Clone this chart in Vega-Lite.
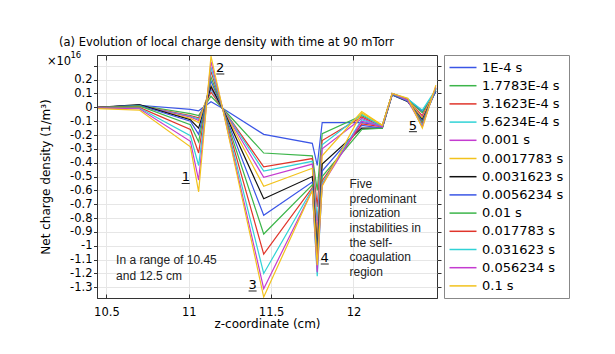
{
"$schema": "https://vega.github.io/schema/vega-lite/v6.json",
"width": 340, "height": 243,
"autosize": {"type": "none"},
"padding": {"left": 97, "top": 55, "right": 178, "bottom": 56},
"background": "white",
"title": {"text": "(a) Evolution of local charge density with time at 90 mTorr", "anchor": "start", "frame": "group", "dx": -38, "offset": 3, "font": "DejaVu Sans", "fontSize": 11.5, "fontWeight": "normal", "color": "black"},
"config": {
  "view": {"stroke": "#333", "strokeWidth": 1},
  "axis": {"domainColor": "#333", "tickColor": "#333", "labelFont": "DejaVu Sans", "labelFontSize": 11.5, "labelColor": "black", "titleFont": "DejaVu Sans", "titleFontSize": 12, "titleFontWeight": "normal", "titleColor": "black", "gridColor": "#e6e6e6", "labelFlush": false, "labelOverlap": false}
},
"resolve": {"axis": {"x": "independent", "y": "independent"}},
"layer": [
{
 "data": {"values": [
{"t":"1E-4 s","z":10.45,"v":0},{"t":"1E-4 s","z":10.7,"v":0.015},{"t":"1E-4 s","z":11.01,"v":-0.015},{"t":"1E-4 s","z":11.06,"v":-0.025},{"t":"1E-4 s","z":11.135,"v":0.04},{"t":"1E-4 s","z":11.21,"v":-0.01},{"t":"1E-4 s","z":11.455,"v":-0.195},{"t":"1E-4 s","z":11.75,"v":-0.26},{"t":"1E-4 s","z":11.78,"v":-0.42},{"t":"1E-4 s","z":11.81,"v":-0.11},{"t":"1E-4 s","z":12.05,"v":-0.11},{"t":"1E-4 s","z":12.175,"v":-0.13},{"t":"1E-4 s","z":12.235,"v":0.1},{"t":"1E-4 s","z":12.33,"v":0.06},{"t":"1E-4 s","z":12.418,"v":-0.03},{"t":"1E-4 s","z":12.5,"v":0.11},
{"t":"1.7783E-4 s","z":10.45,"v":0},{"t":"1.7783E-4 s","z":10.7,"v":0.015},{"t":"1.7783E-4 s","z":11.01,"v":-0.045},{"t":"1.7783E-4 s","z":11.06,"v":-0.06},{"t":"1.7783E-4 s","z":11.135,"v":0.08},{"t":"1.7783E-4 s","z":11.21,"v":-0.012},{"t":"1.7783E-4 s","z":11.455,"v":-0.33},{"t":"1.7783E-4 s","z":11.75,"v":-0.35},{"t":"1.7783E-4 s","z":11.78,"v":-0.6},{"t":"1.7783E-4 s","z":11.81,"v":-0.19},{"t":"1.7783E-4 s","z":12.05,"v":-0.06},{"t":"1.7783E-4 s","z":12.175,"v":-0.13},{"t":"1.7783E-4 s","z":12.235,"v":0.1},{"t":"1.7783E-4 s","z":12.33,"v":0.055},{"t":"1.7783E-4 s","z":12.418,"v":-0.04},{"t":"1.7783E-4 s","z":12.5,"v":0.12},
{"t":"3.1623E-4 s","z":10.45,"v":0},{"t":"3.1623E-4 s","z":10.7,"v":0.012},{"t":"3.1623E-4 s","z":11.01,"v":-0.06},{"t":"3.1623E-4 s","z":11.06,"v":-0.075},{"t":"3.1623E-4 s","z":11.135,"v":0.11},{"t":"3.1623E-4 s","z":11.21,"v":-0.014},{"t":"3.1623E-4 s","z":11.455,"v":-0.43},{"t":"3.1623E-4 s","z":11.75,"v":-0.37},{"t":"3.1623E-4 s","z":11.78,"v":-0.72},{"t":"3.1623E-4 s","z":11.81,"v":-0.24},{"t":"3.1623E-4 s","z":12.05,"v":-0.07},{"t":"3.1623E-4 s","z":12.175,"v":-0.14},{"t":"3.1623E-4 s","z":12.235,"v":0.095},{"t":"3.1623E-4 s","z":12.33,"v":0.05},{"t":"3.1623E-4 s","z":12.418,"v":-0.06},{"t":"3.1623E-4 s","z":12.5,"v":0.12},
{"t":"5.6234E-4 s","z":10.45,"v":0},{"t":"5.6234E-4 s","z":10.7,"v":0.01},{"t":"5.6234E-4 s","z":11.01,"v":-0.065},{"t":"5.6234E-4 s","z":11.06,"v":-0.085},{"t":"5.6234E-4 s","z":11.135,"v":0.13},{"t":"5.6234E-4 s","z":11.21,"v":-0.015},{"t":"5.6234E-4 s","z":11.455,"v":-0.46},{"t":"5.6234E-4 s","z":11.75,"v":-0.39},{"t":"5.6234E-4 s","z":11.78,"v":-0.82},{"t":"5.6234E-4 s","z":11.81,"v":-0.27},{"t":"5.6234E-4 s","z":12.05,"v":-0.05},{"t":"5.6234E-4 s","z":12.175,"v":-0.14},{"t":"5.6234E-4 s","z":12.235,"v":0.1},{"t":"5.6234E-4 s","z":12.33,"v":0.06},{"t":"5.6234E-4 s","z":12.418,"v":-0.02},{"t":"5.6234E-4 s","z":12.5,"v":0.13},
{"t":"0.001 s","z":10.45,"v":0},{"t":"0.001 s","z":10.7,"v":0.01},{"t":"0.001 s","z":11.01,"v":-0.07},{"t":"0.001 s","z":11.06,"v":-0.095},{"t":"0.001 s","z":11.135,"v":0.14},{"t":"0.001 s","z":11.21,"v":-0.016},{"t":"0.001 s","z":11.455,"v":-0.505},{"t":"0.001 s","z":11.75,"v":-0.41},{"t":"0.001 s","z":11.78,"v":-0.9},{"t":"0.001 s","z":11.81,"v":-0.3},{"t":"0.001 s","z":12.05,"v":-0.08},{"t":"0.001 s","z":12.175,"v":-0.14},{"t":"0.001 s","z":12.235,"v":0.095},{"t":"0.001 s","z":12.33,"v":0.05},{"t":"0.001 s","z":12.418,"v":-0.07},{"t":"0.001 s","z":12.5,"v":0.13},
{"t":"0.0017783 s","z":10.45,"v":0},{"t":"0.0017783 s","z":10.7,"v":0.008},{"t":"0.0017783 s","z":11.01,"v":-0.08},{"t":"0.0017783 s","z":11.06,"v":-0.11},{"t":"0.0017783 s","z":11.135,"v":0.16},{"t":"0.0017783 s","z":11.21,"v":-0.018},{"t":"0.0017783 s","z":11.455,"v":-0.57},{"t":"0.0017783 s","z":11.75,"v":-0.44},{"t":"0.0017783 s","z":11.78,"v":-0.97},{"t":"0.0017783 s","z":11.81,"v":-0.35},{"t":"0.0017783 s","z":12.05,"v":-0.03},{"t":"0.0017783 s","z":12.175,"v":-0.13},{"t":"0.0017783 s","z":12.235,"v":0.1},{"t":"0.0017783 s","z":12.33,"v":0.055},{"t":"0.0017783 s","z":12.418,"v":-0.08},{"t":"0.0017783 s","z":12.5,"v":0.14},
{"t":"0.0031623 s","z":10.45,"v":0},{"t":"0.0031623 s","z":10.7,"v":0.02},{"t":"0.0031623 s","z":11.01,"v":-0.09},{"t":"0.0031623 s","z":11.06,"v":-0.15},{"t":"0.0031623 s","z":11.135,"v":0.15},{"t":"0.0031623 s","z":11.21,"v":-0.02},{"t":"0.0031623 s","z":11.455,"v":-0.66},{"t":"0.0031623 s","z":11.75,"v":-0.5},{"t":"0.0031623 s","z":11.78,"v":-1.02},{"t":"0.0031623 s","z":11.81,"v":-0.41},{"t":"0.0031623 s","z":12.05,"v":-0.15},{"t":"0.0031623 s","z":12.175,"v":-0.15},{"t":"0.0031623 s","z":12.235,"v":0.09},{"t":"0.0031623 s","z":12.33,"v":0.04},{"t":"0.0031623 s","z":12.418,"v":-0.09},{"t":"0.0031623 s","z":12.5,"v":0.12},
{"t":"0.0056234 s","z":10.45,"v":0},{"t":"0.0056234 s","z":10.7,"v":0.015},{"t":"0.0056234 s","z":11.01,"v":-0.1},{"t":"0.0056234 s","z":11.06,"v":-0.195},{"t":"0.0056234 s","z":11.135,"v":0.19},{"t":"0.0056234 s","z":11.21,"v":-0.022},{"t":"0.0056234 s","z":11.455,"v":-0.78},{"t":"0.0056234 s","z":11.75,"v":-0.54},{"t":"0.0056234 s","z":11.78,"v":-1.06},{"t":"0.0056234 s","z":11.81,"v":-0.46},{"t":"0.0056234 s","z":12.05,"v":-0.13},{"t":"0.0056234 s","z":12.175,"v":-0.15},{"t":"0.0056234 s","z":12.235,"v":0.09},{"t":"0.0056234 s","z":12.33,"v":0.045},{"t":"0.0056234 s","z":12.418,"v":-0.1},{"t":"0.0056234 s","z":12.5,"v":0.12},
{"t":"0.01 s","z":10.45,"v":0},{"t":"0.01 s","z":10.7,"v":0.01},{"t":"0.01 s","z":11.01,"v":-0.125},{"t":"0.01 s","z":11.06,"v":-0.25},{"t":"0.01 s","z":11.135,"v":0.22},{"t":"0.01 s","z":11.21,"v":-0.024},{"t":"0.01 s","z":11.455,"v":-0.915},{"t":"0.01 s","z":11.75,"v":-0.56},{"t":"0.01 s","z":11.78,"v":-1.09},{"t":"0.01 s","z":11.81,"v":-0.5},{"t":"0.01 s","z":12.05,"v":-0.16},{"t":"0.01 s","z":12.175,"v":-0.15},{"t":"0.01 s","z":12.235,"v":0.095},{"t":"0.01 s","z":12.33,"v":0.05},{"t":"0.01 s","z":12.418,"v":-0.11},{"t":"0.01 s","z":12.5,"v":0.13},
{"t":"0.017783 s","z":10.45,"v":0},{"t":"0.017783 s","z":10.7,"v":0},{"t":"0.017783 s","z":11.01,"v":-0.16},{"t":"0.017783 s","z":11.06,"v":-0.33},{"t":"0.017783 s","z":11.135,"v":0.26},{"t":"0.017783 s","z":11.21,"v":-0.026},{"t":"0.017783 s","z":11.455,"v":-1.06},{"t":"0.017783 s","z":11.75,"v":-0.58},{"t":"0.017783 s","z":11.78,"v":-1.12},{"t":"0.017783 s","z":11.81,"v":-0.53},{"t":"0.017783 s","z":12.05,"v":-0.12},{"t":"0.017783 s","z":12.175,"v":-0.14},{"t":"0.017783 s","z":12.235,"v":0.1},{"t":"0.017783 s","z":12.33,"v":0.055},{"t":"0.017783 s","z":12.418,"v":-0.12},{"t":"0.017783 s","z":12.5,"v":0.14},
{"t":"0.031623 s","z":10.45,"v":-0.005},{"t":"0.031623 s","z":10.7,"v":-0.005},{"t":"0.031623 s","z":11.01,"v":-0.205},{"t":"0.031623 s","z":11.06,"v":-0.42},{"t":"0.031623 s","z":11.135,"v":0.29},{"t":"0.031623 s","z":11.21,"v":-0.028},{"t":"0.031623 s","z":11.455,"v":-1.2},{"t":"0.031623 s","z":11.75,"v":-0.59},{"t":"0.031623 s","z":11.78,"v":-1.22},{"t":"0.031623 s","z":11.81,"v":-0.55},{"t":"0.031623 s","z":12.05,"v":-0.09},{"t":"0.031623 s","z":12.175,"v":-0.14},{"t":"0.031623 s","z":12.235,"v":0.1},{"t":"0.031623 s","z":12.33,"v":0.05},{"t":"0.031623 s","z":12.418,"v":-0.13},{"t":"0.031623 s","z":12.5,"v":0.14},
{"t":"0.056234 s","z":10.45,"v":-0.005},{"t":"0.056234 s","z":10.7,"v":-0.01},{"t":"0.056234 s","z":11.01,"v":-0.245},{"t":"0.056234 s","z":11.06,"v":-0.525},{"t":"0.056234 s","z":11.135,"v":0.33},{"t":"0.056234 s","z":11.21,"v":-0.03},{"t":"0.056234 s","z":11.455,"v":-1.31},{"t":"0.056234 s","z":11.75,"v":-0.6},{"t":"0.056234 s","z":11.78,"v":-1.19},{"t":"0.056234 s","z":11.81,"v":-0.56},{"t":"0.056234 s","z":12.05,"v":-0.1},{"t":"0.056234 s","z":12.175,"v":-0.14},{"t":"0.056234 s","z":12.235,"v":0.1},{"t":"0.056234 s","z":12.33,"v":0.05},{"t":"0.056234 s","z":12.418,"v":-0.14},{"t":"0.056234 s","z":12.5,"v":0.15},
{"t":"0.1 s","z":10.45,"v":-0.01},{"t":"0.1 s","z":10.7,"v":-0.02},{"t":"0.1 s","z":11.01,"v":-0.285},{"t":"0.1 s","z":11.06,"v":-0.61},{"t":"0.1 s","z":11.135,"v":0.37},{"t":"0.1 s","z":11.21,"v":-0.032},{"t":"0.1 s","z":11.455,"v":-1.37},{"t":"0.1 s","z":11.75,"v":-0.6},{"t":"0.1 s","z":11.78,"v":-1.14},{"t":"0.1 s","z":11.81,"v":-0.57},{"t":"0.1 s","z":12.05,"v":-0.04},{"t":"0.1 s","z":12.175,"v":-0.13},{"t":"0.1 s","z":12.235,"v":0.1},{"t":"0.1 s","z":12.33,"v":0.065},{"t":"0.1 s","z":12.418,"v":-0.15},{"t":"0.1 s","z":12.5,"v":0.16}
 ]},
 "mark": {"type": "line", "strokeWidth": 1.2, "clip": true},
 "encoding": {
  "x": {"field": "z", "type": "quantitative", "scale": {"domain": [10.443, 12.507], "nice": false, "zero": false},
        "axis": {"orient": "bottom", "values": [10.5, 11, 11.5, 12], "labelExpr": "'' + datum.value", "title": "z-coordinate (cm)", "tickSize": -4, "labelPadding": 12, "titleY": 25, "titleBaseline": "middle", "grid": true}},
  "y": {"field": "v", "type": "quantitative", "scale": {"domain": [-1.377, 0.378], "nice": false, "zero": false},
        "axis": {"orient": "left", "values": [-1.3,-1.2,-1.1,-1,-0.9,-0.8,-0.7,-0.6,-0.5,-0.4,-0.3,-0.2,-0.1,0,0.1,0.2,0.3], "title": "Net charge density (1/m³)", "tickSize": 3.5, "labelPadding": 1.5, "labelExpr": "datum.value > 0.25 ? '' : '' + datum.value", "titleX": -52, "titleBaseline": "middle", "grid": true}},
  "color": {"field": "t", "type": "nominal",
            "scale": {"domain": ["1E-4 s","1.7783E-4 s","3.1623E-4 s","5.6234E-4 s","0.001 s","0.0017783 s","0.0031623 s","0.0056234 s","0.01 s","0.017783 s","0.031623 s","0.056234 s","0.1 s"],
                      "range": ["#3a55e6","#3cb54a","#e0352b","#30d2d6","#c43bd0","#f2c21c","#111111","#3a55e6","#3cb54a","#e0352b","#30d2d6","#c43bd0","#f2c21c"]},
            "legend": {"title": null, "symbolType": "M-2,0H2", "symbolSize": 182.25, "symbolStrokeWidth": 1.5, "symbolOffset": 6.5, "labelOffset": 11.5, "labelFontSize": 13, "labelFont": "DejaVu Sans", "labelColor": "black", "rowPadding": 3.2, "padding": 5, "offset": 2, "strokeColor": "#888", "fillColor": "white", "labelLimit": 200}}
 }
},
{
 "data": {"values": [{"z":10.9825,"v":-0.5342,"s":"1"},{"z":11.191,"v":0.2538,"s":"2"},{"z":11.3877,"v":-1.3098,"s":"3"},{"z":11.8256,"v":-1.1148,"s":"4"},{"z":12.3609,"v":-0.1615,"s":"5"}]},
 "mark": {"type": "text", "font": "DejaVu Sans", "fontSize": 13, "align": "center", "baseline": "alphabetic", "color": "black"},
 "encoding": {
  "x": {"field": "z", "type": "quantitative", "scale": {"domain": [10.443, 12.507], "nice": false, "zero": false},
        "axis": {"orient": "top", "labels": false, "title": null, "grid": false, "domain": false, "values": [10.5, 11, 11.5, 12], "tickSize": -5}},
  "y": {"field": "v", "type": "quantitative", "scale": {"domain": [-1.377, 0.378], "nice": false, "zero": false},
        "axis": {"orient": "right", "labels": false, "title": null, "grid": false, "domain": false, "values": [-1.3,-1.2,-1.1,-1,-0.9,-0.8,-0.7,-0.6,-0.5,-0.4,-0.3,-0.2,-0.1,0,0.1,0.2,0.3], "tickSize": 4}},
  "text": {"field": "s"}
 }
},
{
 "data": {"values": [{"z":10.957,"z2":11.006,"v":-0.55},{"z":11.167,"z2":11.216,"v":0.2408},{"z":11.3633,"z2":11.412,"v":-1.3264},{"z":11.8013,"z2":11.8499,"v":-1.1315},{"z":12.3366,"z2":12.3852,"v":-0.1759}]},
 "mark": {"type": "rule", "color": "#222", "strokeWidth": 1},
 "encoding": {
  "x": {"field": "z", "type": "quantitative", "scale": {"domain": [10.443, 12.507], "nice": false, "zero": false}, "axis": null},
  "x2": {"field": "z2"},
  "y": {"field": "v", "type": "quantitative", "scale": {"domain": [-1.377, 0.378], "nice": false, "zero": false}, "axis": null}
 }
},
{
 "data": {"values": [{"z":10.5586,"v":-1.1336,"s":"In a range of 10.45\nand 12.5 cm"}]},
 "mark": {"type": "text", "font": "Liberation Sans", "fontSize": 12, "align": "left", "baseline": "alphabetic", "lineBreak": "\n", "lineHeight": 16, "color": "#222"},
 "encoding": {
  "x": {"field": "z", "type": "quantitative", "scale": {"domain": [10.443, 12.507], "nice": false, "zero": false}, "axis": null},
  "y": {"field": "v", "type": "quantitative", "scale": {"domain": [-1.377, 0.378], "nice": false, "zero": false}, "axis": null},
  "text": {"field": "s"}
 }
},
{
 "data": {"values": [{"z":11.976,"v":-0.5847,"s":"Five\npredominant\nionization\ninstabilities in\nthe self-\ncoagulation\nregion"}]},
 "mark": {"type": "text", "font": "Liberation Sans", "fontSize": 12, "align": "left", "baseline": "alphabetic", "lineBreak": "\n", "lineHeight": 14.6, "color": "#222"},
 "encoding": {
  "x": {"field": "z", "type": "quantitative", "scale": {"domain": [10.443, 12.507], "nice": false, "zero": false}, "axis": null},
  "y": {"field": "v", "type": "quantitative", "scale": {"domain": [-1.377, 0.378], "nice": false, "zero": false}, "axis": null},
  "text": {"field": "s"}
 }
},
{
 "data": {"values": [{"z":10.1389,"v":0.3058,"s":"×10"}]},
 "mark": {"type": "text", "font": "DejaVu Sans", "fontSize": 11.5, "align": "left", "baseline": "alphabetic", "color": "black"},
 "encoding": {
  "x": {"field": "z", "type": "quantitative", "scale": {"domain": [10.443, 12.507], "nice": false, "zero": false}, "axis": null},
  "y": {"field": "v", "type": "quantitative", "scale": {"domain": [-1.377, 0.378], "nice": false, "zero": false}, "axis": null},
  "text": {"field": "s"}
 }
},
{
 "data": {"values": [{"z":10.2818,"v":0.3542,"s":"16"}]},
 "mark": {"type": "text", "font": "DejaVu Sans", "fontSize": 8.5, "align": "left", "baseline": "alphabetic", "color": "black"},
 "encoding": {
  "x": {"field": "z", "type": "quantitative", "scale": {"domain": [10.443, 12.507], "nice": false, "zero": false}, "axis": null},
  "y": {"field": "v", "type": "quantitative", "scale": {"domain": [-1.377, 0.378], "nice": false, "zero": false}, "axis": null},
  "text": {"field": "s"}
 }
}
]
}
